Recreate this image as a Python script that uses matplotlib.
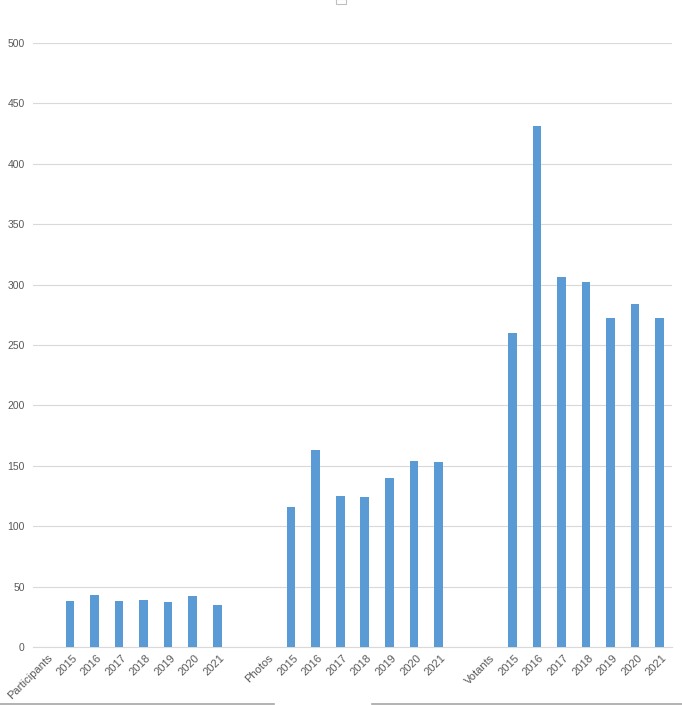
import matplotlib
matplotlib.use("Agg")
import matplotlib.pyplot as plt
import matplotlib.transforms as mtransforms
from matplotlib.lines import Line2D
from matplotlib.patches import Rectangle
import numpy as np

years = ["2015", "2016", "2017", "2018", "2019", "2020", "2021"]
groups = ["Participants", "Photos", "Votants"]
participants = [38, 43, 38, 39, 37, 42, 35]
photos = [116, 163, 125, 124, 140, 154, 153]
votants = [260, 431, 306, 302, 272, 284, 272]

series = [participants, photos, votants]
labels = []
values = []
for gi, (g, vals) in enumerate(zip(groups, series)):
    if gi > 0:
        labels.append("")
        values.append(np.nan)
    labels.append(g)
    values.append(np.nan)
    labels.extend(years)
    values.extend(vals)

x = np.arange(len(labels))

fig = plt.figure(figsize=(6.82, 7.05), dpi=100)
ax = fig.add_axes([33/682, 58/705, 639/682, 604/705])
ax.bar(x, values, width=0.35, color="#5B9BD5", zorder=3)
ax.set_xlim(-0.5, len(labels) - 0.5)
ax.set_ylim(0, 500)
ax.set_yticks(np.arange(0, 501, 50))
ax.grid(axis="y", color="#d9d9d9", linewidth=0.8, zorder=0)
for s in ["top", "right", "left"]:
    ax.spines[s].set_visible(False)
ax.spines["bottom"].set_color("#d9d9d9")
ax.spines["bottom"].set_linewidth(0.8)
ax.tick_params(axis="both", length=0, colors="#595959")
ax.set_xticks(x)
ax.set_xticklabels(labels, rotation=45, ha="right", rotation_mode="anchor",
                   fontsize=8, color="#595959", family="Liberation Sans")
for lab in ax.get_yticklabels():
    lab.set_family("Liberation Sans")
    lab.set_fontsize(7.5)
    lab.set_color("#595959")
offset = mtransforms.ScaledTranslation(2/100, -1/100, fig.dpi_scale_trans)
for lab in ax.get_xticklabels():
    lab.set_transform(lab.get_transform() + offset)
ax.tick_params(axis="y", pad=6)

# bottom gray lines and tiny legend box artifacts
fig.add_artist(Line2D([0, 274/682], [1.5/705, 1.5/705], color="#a6a6a6", linewidth=1.2))
fig.add_artist(Line2D([372/682, 1], [1.5/705, 1.5/705], color="#a6a6a6", linewidth=1.2))
fig.add_artist(Rectangle((336/682, 701/705), 10/682, 5/705, fill=False,
                         edgecolor="#bfbfbf", linewidth=0.8))

fig.savefig("out.png", dpi=100, facecolor="white")
